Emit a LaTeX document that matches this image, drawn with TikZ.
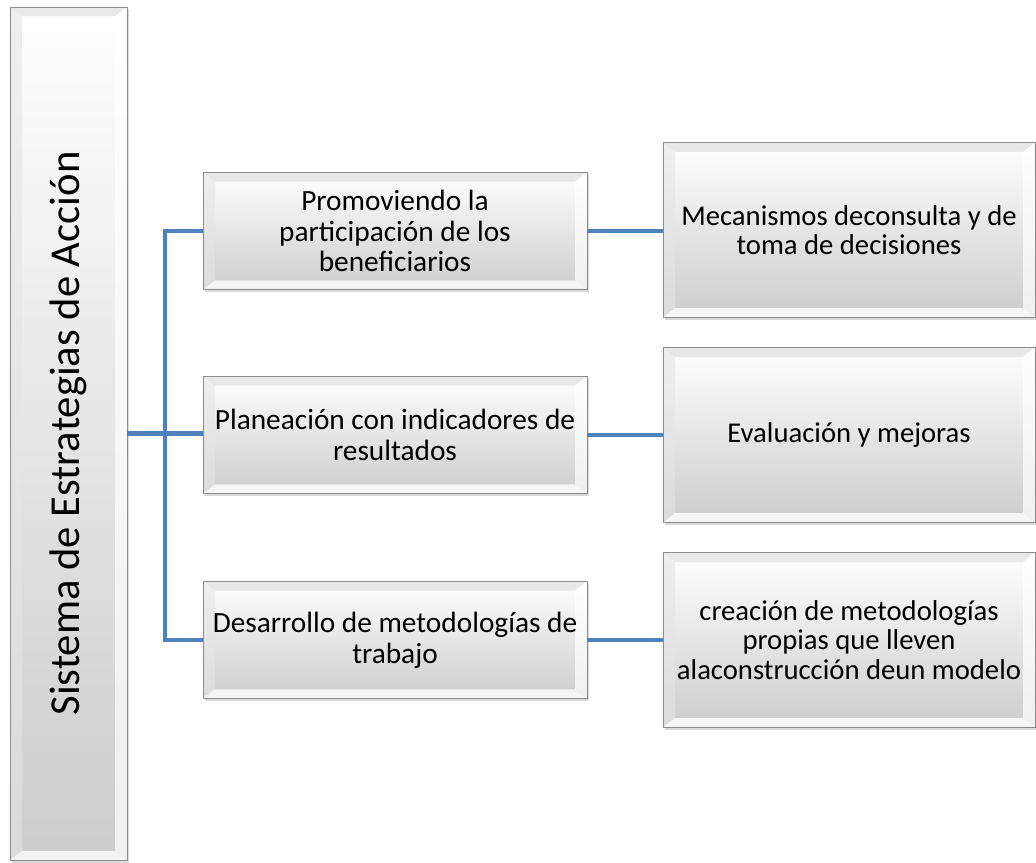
\documentclass[tikz,border=0pt]{standalone}
\usepackage{fontspec}
\setmainfont{Carlito}
\usetikzlibrary{calc}
\usetikzlibrary{positioning}
\usetikzlibrary{shadows}
\definecolor{azul}{RGB}{79,129,189}

\begin{document}
\begin{tikzpicture}[
          x=0.75pt,
          y=-0.75pt,
          caja/.style={
            draw=black!45,
            top color=white,
            bottom color=black!20,
            drop shadow={opacity=0.3,shadow xshift=1.5pt,shadow yshift=-2pt},
            align=center,
            inner sep=0pt,
            path picture={
              \coordinate (bsw) at (path picture bounding box.south west);
              \coordinate (bne) at (path picture bounding box.north east);
              \fill[black!12,opacity=0.7] (bsw |- bne) -- (bne) -- ++(-9pt,-7pt)
                -- ($(bsw |- bne)+(9pt,-7pt)$) -- cycle;
              \fill[black!10,opacity=0.6] (bsw |- bne) -- (bsw) -- ++(9pt,7pt)
                -- ($(bsw |- bne)+(9pt,-7pt)$) -- cycle;
              \fill[white,opacity=0.8] (bsw) -- (bne |- bsw) -- ++(-9pt,7pt)
                -- ($(bsw)+(9pt,7pt)$) -- cycle;
              \fill[white,opacity=0.7] (bne) -- (bne |- bsw) -- ++(-9pt,7pt)
                -- ($(bne)+(-9pt,-7pt)$) -- cycle;
            }},
          estrategia/.style={
            caja,
            minimum width=288pt,
            minimum height=88pt,
            font=\fontsize{22}{23}\selectfont},
          accion/.style={
            caja,
            minimum width=279pt,
            minimum height=131pt,
            font=\fontsize{21.5}{22}\selectfont},
          conector/.style={
            draw=azul,
            line width=3.3pt},
        ]
          \node[caja,minimum width=88pt,minimum height=640pt] (s) at (68.5,433.5) {};
          \node[rotate=90,font=\fontsize{32}{36}\selectfont] (titulo) at (s.center) {Sistema de Estrategias de Acción};
          \node[estrategia] (e1) at (395,231) {Promoviendo la\\participación de los\\beneficiarios};
          \node[estrategia] (e2) at (395,435) {Planeación con indicadores de\\resultados};
          \node[estrategia] (e3) at (395,640) {Desarrollo de metodologías de\\trabajo};
          \node[accion] (a1) at (849,230) {Mecanismos deconsulta y de\\toma de decisiones};
          \node[accion] (a2) at (849,435) {Evaluación y mejoras};
          \node[accion] (a3) at (849,640) {creación de metodologías\\propias que lleven\\alaconstrucción deun modelo};
          \coordinate (bus) at ($(s.east)!0.5!(e2.west |- s.east)$);
          \draw[conector] (s.east) -- (e2.west |- s.east);
          \draw[conector] (e1.west) -| (bus) |- (e3.west);
          \draw[conector] (e1.east) -- (e1.east -| a1.west);
          \draw[conector] (e2.east) -- (e2.east -| a2.west);
          \draw[conector] (e3.east) -- (e3.east -| a3.west);
          \useasboundingbox (0,0) rectangle (1036,863);
        \end{tikzpicture}
\end{document}
